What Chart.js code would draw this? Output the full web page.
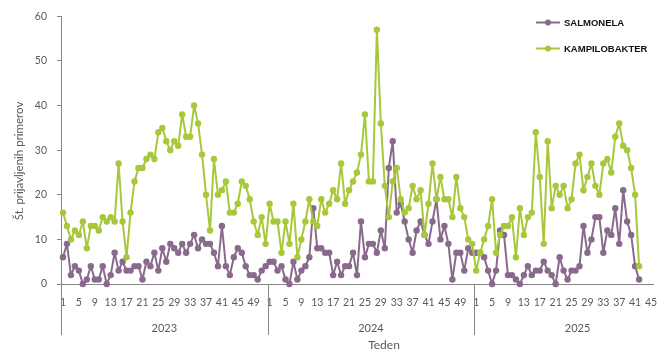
<!DOCTYPE html>
<html><head><meta charset="utf-8">
<script src="https://cdn.jsdelivr.net/npm/chart.js@4.4.1/dist/chart.umd.min.js"></script>
<style>html,body{margin:0;padding:0;background:#fff;}canvas{display:block;}</style>
</head><body>
<canvas id="c" width="670" height="356"></canvas>
<script>
// ---- data ----
const years = ['2023', '2024', '2025'];
const weeksOnAxis = [52, 52, 45];

const salmonela2023 = [6,9,2,4,3,0,1,4,1,1, 4,0,2,7,3,5,3,3,4,4, 1,5,4,7,3,8,5,9,8,7, 9,7,9,11,8,10,9,9,7,4, 13,4,2,6,8,7,4,2,2,1, 3,4];
const salmonela2024 = [5,5,3,4,1,0,5,1,3,4, 6,17,8,8,7,7,2,5,2,4, 4,7,2,14,6,9,9,7,12,8, 26,32,16,18,14,10,7,12,14,11, 9,14,19,10,13,9,1,7,7,3, 8,7];
const salmonela2025 = [7,7,6,3,0,3,12,11,2,2, 1,0,2,4,2,3,3,5,3,2, 0,6,3,1,3,3,4,13,7,10, 15,15,7,12,11,17,9,21,14,11, 4,1];

const kampilobakter2023 = [16,13,10,12,11,14,8,13,13,12, 15,14,15,14,27,14,6,16,23,26, 26,28,29,28,34,35,32,30,32,31, 38,33,33,40,36,29,20,12,28,20, 21,23,16,16,18,23,22,19,14,11, 15,9];
const kampilobakter2024 = [18,14,14,7,14,9,18,6,10,14, 19,14,13,19,16,18,21,19,27,18, 21,23,25,29,38,23,23,57,36,22, 15,23,26,19,16,17,22,19,21,11, 18,27,19,24,19,19,15,24,17,15, 10,9];
const kampilobakter2025 = [3,7,10,13,19,7,11,13,13,15, 6,17,11,15,16,34,24,9,32,17, 22,20,22,17,19,27,29,21,24,27, 22,20,27,28,25,33,36,31,30,26, 20,4];

const seriesNames = ['SALMONELA', 'KAMPILOBAKTER'];
const yTitle = 'Št. prijavljenih primerov';
const xTitle = 'Teden';

// ---- build ----
const labels = [];
weeksOnAxis.forEach(n => { for (let w = 1; w <= n; w++) labels.push(String(w)); });
const salmonela = [...salmonela2023, ...salmonela2024, ...salmonela2025];
const kampilobakter = [...kampilobakter2023, ...kampilobakter2024, ...kampilobakter2025];

const PURPLE = '#896a8d';
const GREEN = '#a6c83a';
const AXIS = '#868686';
const TICK = '#595959';
const FONT = 'Lato, "Open Sans", sans-serif';

const decor = {
  id: 'decor',
  afterDraw(chart) {
    const ctx = chart.ctx, xs = chart.scales.x, ca = chart.chartArea;
    ctx.save();
    ctx.strokeStyle = AXIS; ctx.lineWidth = 1;
    ctx.fillStyle = TICK;
    ctx.font = '11px ' + FONT;
    ctx.textAlign = 'center'; ctx.textBaseline = 'middle';
    let start = 0;
    years.forEach((yr, k) => {
      const left = start === 0 ? ca.left : (xs.getPixelForValue(start - 1) + xs.getPixelForValue(start)) / 2;
      const lx = Math.round(left) + 0.5;
      ctx.beginPath(); ctx.moveTo(lx, ca.bottom); ctx.lineTo(lx, ca.bottom + 51); ctx.stroke();
      const c = (xs.getPixelForValue(start + 25) + xs.getPixelForValue(start + 26)) / 2;
      ctx.fillText(yr, c, ca.bottom + 44);
      start += weeksOnAxis[k];
    });
    ctx.font = '12px ' + FONT;
    ctx.fillText(xTitle, 384, ca.bottom + 61);
    ctx.save();
    ctx.translate(19, 161);
    ctx.rotate(-Math.PI / 2);
    ctx.font = '11.5px ' + FONT;
    ctx.fillText(yTitle, 0, 0);
    ctx.restore();
    const items = [[seriesNames[0], PURPLE, 22.5], [seriesNames[1], GREEN, 48.5]];
    items.forEach(([name, col, y]) => {
      ctx.strokeStyle = col; ctx.lineWidth = 2;
      ctx.beginPath(); ctx.moveTo(536, y); ctx.lineTo(560, y); ctx.stroke();
      ctx.fillStyle = col;
      ctx.beginPath(); ctx.arc(548, y, 3, 0, Math.PI * 2); ctx.fill();
      ctx.fillStyle = '#111';
      ctx.font = 'bold 9.5px "Liberation Sans", Arial, sans-serif';
      ctx.textAlign = 'left';
      ctx.fillText(name, 564, y + 0.5);
    });
    ctx.restore();
  }
};

const mk = (label, data, col, order) => ({
  label, data, borderColor: col, backgroundColor: col,
  pointBackgroundColor: col, pointBorderColor: col, pointBorderWidth: 0,
  pointRadius: 3.2, borderWidth: 2, tension: 0, clip: false, order,
  borderJoinStyle: 'round', borderCapStyle: 'round'
});

new Chart(document.getElementById('c'), {
  type: 'line',
  data: {
    labels,
    datasets: [mk(seriesNames[0], salmonela, PURPLE, 2), mk(seriesNames[1], kampilobakter, GREEN, 1)]
  },
  options: {
    responsive: false, animation: false, devicePixelRatio: 1,
    layout: { padding: { left: 0, right: 17, top: 14, bottom: 0 } },
    plugins: { legend: { display: false }, tooltip: { enabled: false } },
    scales: {
      x: {
        type: 'category', offset: true,
        grid: { display: true, drawOnChartArea: false, drawTicks: false },
        border: { display: true, color: AXIS, width: 1 },
        ticks: {
          autoSkip: false, maxRotation: 0, minRotation: 0, padding: 12, color: TICK,
          font: { family: FONT, size: 10.5 },
          callback(v) { const l = this.getLabelForValue(v); return (parseInt(l, 10) - 1) % 4 === 0 ? l : ''; }
        },
        afterFit(s) { s.height = 72; }
      },
      y: {
        min: 0, max: 60,
        ticks: { stepSize: 10, padding: 10, color: TICK, font: { family: FONT, size: 10.5 } },
        grid: { drawOnChartArea: false, drawTicks: true, tickLength: 4, color: AXIS },
        border: { color: AXIS, width: 1 },
        afterFit(s) { s.width = 61; }
      }
    }
  },
  plugins: [decor]
});
</script>
</body></html>
